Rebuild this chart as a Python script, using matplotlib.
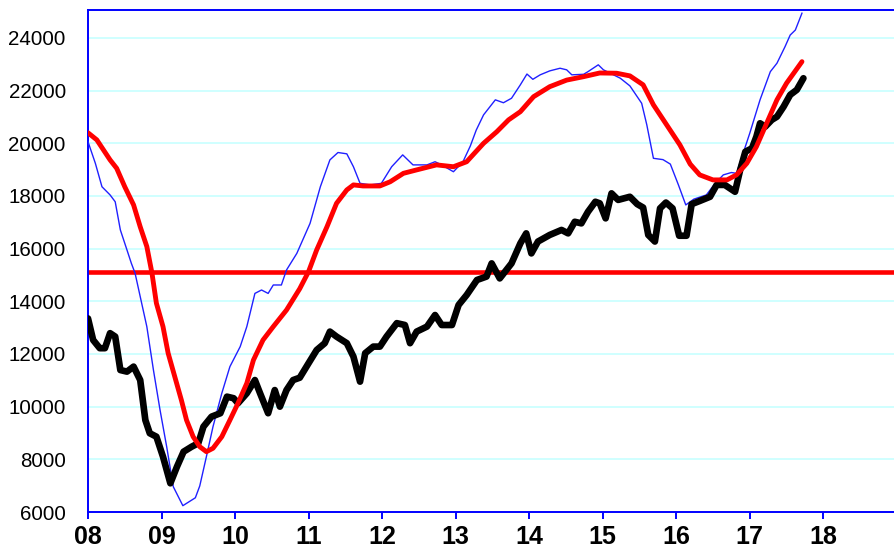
import matplotlib
matplotlib.use("Agg")
import matplotlib.pyplot as plt

# ---- data (years as fractional year, values in index points) ----
black_x = [2008.00, 2008.07, 2008.16, 2008.23, 2008.30, 2008.37, 2008.44, 2008.53, 2008.62, 2008.71,
           2008.78, 2008.84, 2008.93, 2009.02, 2009.12, 2009.21, 2009.30, 2009.41, 2009.50, 2009.57,
           2009.68, 2009.80, 2009.89, 2009.98, 2010.04, 2010.16, 2010.27, 2010.34, 2010.45, 2010.54,
           2010.61, 2010.70, 2010.79, 2010.88, 2011.00, 2011.11, 2011.22, 2011.29, 2011.38, 2011.52,
           2011.61, 2011.70, 2011.77, 2011.88, 2011.97, 2012.06, 2012.20, 2012.31, 2012.38, 2012.47,
           2012.61, 2012.72, 2012.81, 2012.95, 2013.04, 2013.15, 2013.29, 2013.42, 2013.49, 2013.60,
           2013.76, 2013.88, 2013.96, 2014.03, 2014.12, 2014.28, 2014.44, 2014.53, 2014.62, 2014.71,
           2014.80, 2014.90, 2014.96, 2015.04, 2015.12, 2015.21, 2015.37, 2015.47, 2015.55, 2015.62,
           2015.71, 2015.78, 2015.86, 2015.95, 2016.04, 2016.14, 2016.21, 2016.32, 2016.46, 2016.55,
           2016.66, 2016.80, 2016.87, 2016.94, 2017.03, 2017.09, 2017.14, 2017.21, 2017.30, 2017.37,
           2017.46, 2017.55, 2017.64, 2017.73]
black_y = [13350, 12530, 12220, 12220, 12790, 12660, 11390, 11330, 11520, 11010,
           9490, 8990, 8860, 8100, 7090, 7720, 8290, 8480, 8610, 9240,
           9620, 9750, 10380, 10320, 10130, 10510, 11010, 10510, 9750, 10630,
           10000, 10630, 11010, 11100, 11650, 12150, 12410, 12850, 12660, 12410,
           11900, 10950, 12030, 12280, 12280, 12660, 13170, 13100, 12410, 12850,
           13040, 13480, 13100, 13100, 13860, 14240, 14810, 14940, 15440, 14870,
           15440, 16200, 16580, 15820, 16270, 16520, 16710, 16580, 17020, 16960,
           17400, 17780, 17720, 17150, 18100, 17850, 17970, 17690, 17560, 16520,
           16270, 17530, 17750, 17530, 16490, 16490, 17690, 17810, 17970, 18420,
           18420, 18160, 18990, 19680, 19810, 20250, 20760, 20630, 20890, 21010,
           21390, 21840, 22030, 22470]

red_x = [2008.00, 2008.12, 2008.21, 2008.30, 2008.39, 2008.50, 2008.62, 2008.71, 2008.80, 2008.87,
         2008.93, 2009.02, 2009.09, 2009.18, 2009.27, 2009.34, 2009.43, 2009.52, 2009.61, 2009.70,
         2009.82, 2009.93, 2010.04, 2010.16, 2010.25, 2010.38, 2010.52, 2010.70, 2010.88, 2011.00,
         2011.11, 2011.25, 2011.38, 2011.52, 2011.61, 2011.74, 2011.97, 2012.11, 2012.29, 2012.47,
         2012.74, 2012.97, 2013.15, 2013.38, 2013.56, 2013.72, 2013.88, 2014.06, 2014.28, 2014.51,
         2014.74, 2014.96, 2015.19, 2015.37, 2015.55, 2015.69, 2015.87, 2016.05, 2016.19, 2016.32,
         2016.50, 2016.69, 2016.82, 2016.96, 2017.09, 2017.23, 2017.37, 2017.50, 2017.71]
red_y = [20400, 20130, 19750, 19370, 19050, 18350, 17660, 16830, 16080, 15070,
         13930, 13040, 12030, 11140, 10250, 9490, 8860, 8480, 8290, 8420,
         8860, 9490, 10130, 10890, 11770, 12530, 13040, 13670, 14480, 15130,
         15950, 16830, 17720, 18230, 18420, 18380, 18380, 18540, 18860, 18990,
         19180, 19110, 19300, 20000, 20440, 20890, 21200, 21770, 22150, 22400,
         22530, 22670, 22660, 22560, 22220, 21460, 20700, 19940, 19210, 18800,
         18610, 18610, 18800, 19240, 19870, 20760, 21650, 22280, 23100]

blue_x = [2008.00, 2008.10, 2008.19, 2008.30, 2008.37, 2008.44, 2008.53, 2008.59, 2008.64, 2008.71,
          2008.80, 2008.89, 2008.98, 2009.07, 2009.16, 2009.29, 2009.46, 2009.52, 2009.61, 2009.70,
          2009.82, 2009.93, 2010.07, 2010.16, 2010.27, 2010.36, 2010.45, 2010.52, 2010.63, 2010.70,
          2010.84, 2011.02, 2011.16, 2011.29, 2011.40, 2011.52, 2011.61, 2011.70, 2011.84, 2011.99,
          2012.13, 2012.28, 2012.42, 2012.61, 2012.72, 2012.81, 2012.97, 2013.10, 2013.20, 2013.28,
          2013.38, 2013.54, 2013.65, 2013.76, 2013.88, 2013.97, 2014.05, 2014.15, 2014.28, 2014.42,
          2014.51, 2014.58, 2014.74, 2014.80, 2014.94, 2015.01, 2015.24, 2015.37, 2015.53, 2015.60,
          2015.69, 2015.82, 2015.92, 2016.03, 2016.13, 2016.24, 2016.41, 2016.53, 2016.64, 2016.75,
          2016.82, 2016.91, 2017.00, 2017.14, 2017.28, 2017.37, 2017.48, 2017.55, 2017.62, 2017.71]
blue_y = [20060, 19240, 18350, 18040, 17780, 16710, 15950, 15440, 15070, 14180,
          13040, 11390, 9870, 8480, 6960, 6240, 6540, 6990, 8100, 9240,
          10510, 11520, 12280, 13040, 14300, 14430, 14300, 14620, 14620, 15190,
          15820, 16960, 18350, 19370, 19650, 19600, 19110, 18480, 18420, 18480,
          19110, 19560, 19180, 19180, 19300, 19180, 18920, 19300, 19900, 20500,
          21080, 21650, 21540, 21710, 22220, 22630, 22430, 22600, 22750, 22850,
          22790, 22600, 22620, 22720, 22980, 22790, 22470, 22180, 21520, 20700,
          19430, 19380, 19210, 18420, 17660, 17880, 18040, 18480, 18800, 18890,
          18860, 19620, 20380, 21650, 22720, 23040, 23670, 24110, 24300, 24940]

threshold = 15100

year_ticks = list(range(2008, 2019))
year_labels = ["%02d" % (y % 100) for y in year_ticks]
value_ticks = list(range(6000, 24001, 2000))

# ---- figure ----
fig = plt.figure(figsize=(8.95, 5.54), dpi=100)
ax = fig.add_axes([88 / 895, 42 / 554, 808.8 / 895, 501.7 / 554])

ax.set_xlim(2008, 2019)
ax.set_ylim(6000, 25050)

ax.set_yticks(value_ticks)
ax.set_yticklabels([str(v) for v in value_ticks], fontsize=14.8,
                   family=["Liberation Sans", "DejaVu Sans"])
ax.set_xticks(year_ticks)
ax.set_xticklabels(year_labels, fontsize=18, fontweight="bold",
                   family=["Liberation Sans", "DejaVu Sans"])

for y in value_ticks[1:]:
    ax.axhline(y, color="#ccffff", lw=1.3, zorder=0)

for side in ["left", "top", "bottom"]:
    ax.spines[side].set_color("#0000ff")
    ax.spines[side].set_linewidth(1.4)
ax.spines["right"].set_visible(False)

ax.tick_params(axis="x", colors="#0000ff", direction="out", length=5, width=1.4,
               labelcolor="black", pad=4)
ax.tick_params(axis="y", colors="#ccffff", direction="in", length=0, width=1.3,
               labelcolor="black", pad=16)

ax.axhline(threshold, color="#ff0000", lw=3.3, zorder=2)
ax.plot(blue_x, blue_y, color="#2020ff", lw=1.0, zorder=3)
ax.plot(black_x, black_y, color="black", lw=4.8, zorder=4,
        solid_joinstyle="round", solid_capstyle="round")
ax.plot(red_x, red_y, color="#ff0000", lw=3.5, zorder=5,
        solid_joinstyle="round", solid_capstyle="round")

fig.savefig("out.png", dpi=100)
